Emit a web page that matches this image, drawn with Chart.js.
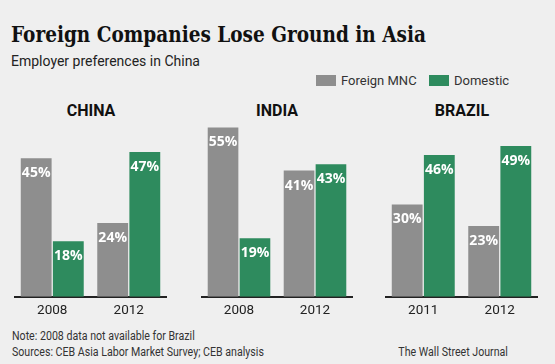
<!DOCTYPE html>
<html>
<head>
<meta charset="utf-8">
<script src="https://cdn.jsdelivr.net/npm/chart.js@4.4.0/dist/chart.umd.min.js"></script>
<style>
  body { margin: 0; background: #efefef; }
  #wrap { position: relative; width: 555px; height: 364px; background: #efefef; overflow: hidden; font-family: Roboto, "Liberation Sans", sans-serif; color: #222; }
  .abs { position: absolute; white-space: nowrap; }
  #title { left: 11px; top: 21px; font-family: "DejaVu Serif", serif; font-weight: bold; font-size: 22px; color: #111; transform: scaleX(0.84); transform-origin: left top; }
  #subtitle { left: 11px; top: 53px; font-size: 14px; color: #222; }
  .sw { position: absolute; width: 20px; height: 11px; }
  .lg { font-size: 13px; color: #333; top: 73px; }
  .panel-title { font-weight: bold; font-size: 16px; color: #111; top: 101px; transform: translateX(-50%); }
  .foot { font-size: 12.5px; color: #333; transform: scaleX(0.85); }
  canvas { position: absolute; }
</style>
</head>
<body>
<div id="wrap">
  <div id="title" class="abs">Foreign Companies Lose Ground in Asia</div>
  <div id="subtitle" class="abs">Employer preferences in China</div>

  <div class="sw" style="left:316px; top:75px; background:#8e8e8e;"></div>
  <div class="abs lg" style="left:341px;">Foreign MNC</div>
  <div class="sw" style="left:429px; top:75px; background:#2e8b5e;"></div>
  <div class="abs lg" style="left:454px;">Domestic</div>

  <div class="abs panel-title" style="left:91px;">CHINA</div>
  <div class="abs panel-title" style="left:277px;">INDIA</div>
  <div class="abs panel-title" style="left:462px;">BRAZIL</div>

  <canvas id="chinaChart" style="left:14px; top:112px;" width="153" height="213"></canvas>
  <canvas id="indiaChart" style="left:201px; top:112px;" width="152" height="213"></canvas>
  <canvas id="brazilChart" style="left:385px; top:112px;" width="153" height="213"></canvas>

  <div class="abs foot" style="left:12px; top:328px; transform-origin: left top;">Note: 2008 data not available for Brazil</div>
  <div class="abs foot" style="left:12px; top:344px; transform-origin: left top;">Sources: CEB Asia Labor Market Survey; CEB analysis</div>
  <div class="abs foot" style="right:47px; top:344px; transform-origin: right top;">The Wall Street Journal</div>
</div>

<script>
const chinaYears = ['2008', '2012'];
const chinaForeign = [45, 24];
const chinaDomestic = [18, 47];

const indiaYears = ['2008', '2012'];
const indiaForeign = [55, 41];
const indiaDomestic = [19, 43];

const brazilYears = ['2011', '2012'];
const brazilForeign = [30, 23];
const brazilDomestic = [46, 49];

const seriesNames = ['Foreign MNC', 'Domestic'];
const foreignColor = '#8e8e8e';
const domesticColor = '#2e8b5e';

// white percent labels just inside the top of each bar
const barLabels = {
    id: 'barLabels',
    afterDatasetsDraw(chart) {
        const ctx = chart.ctx;
        ctx.save();
        ctx.fillStyle = '#ffffff';
        ctx.font = 'bold 14px "Open Sans", Roboto, sans-serif';
        ctx.textAlign = 'center';
        ctx.textBaseline = 'middle';
        chart.data.datasets.forEach((ds, di) => {
            chart.getDatasetMeta(di).data.forEach((bar, i) => {
                ctx.fillText(ds.data[i] + '%', bar.x, bar.y + 15);
            });
        });
        ctx.restore();
    }
};

function makePanel(id, years, foreign, domestic) {
    const ctx = document.getElementById(id).getContext('2d');
    return new Chart(ctx, {
        type: 'bar',
        data: {
            labels: years,
            datasets: [
                { label: seriesNames[0], data: foreign, backgroundColor: foreignColor, borderWidth: 0 },
                { label: seriesNames[1], data: domestic, backgroundColor: domesticColor, borderWidth: 0 }
            ]
        },
        options: {
            responsive: false,
            animation: false,
            layout: { padding: 0 },
            categoryPercentage: 0.84,
            barPercentage: 0.96,
            scales: {
                x: {
                    grid: { display: false, drawTicks: false },
                    border: { color: '#222', width: 2 },
                    ticks: { color: '#222', font: { family: 'Roboto', size: 13.5 }, padding: 6 }
                },
                y: { display: false, min: 0, max: 60 }
            },
            plugins: { legend: { display: false }, tooltip: { enabled: false } }
        },
        plugins: [barLabels]
    });
}

makePanel('chinaChart', chinaYears, chinaForeign, chinaDomestic);
makePanel('indiaChart', indiaYears, indiaForeign, indiaDomestic);
makePanel('brazilChart', brazilYears, brazilForeign, brazilDomestic);
</script>
</body>
</html>
